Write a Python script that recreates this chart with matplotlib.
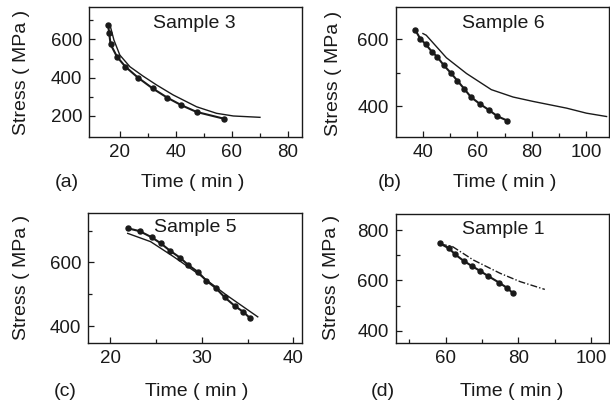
import matplotlib
matplotlib.use("Agg")
import matplotlib.pyplot as plt

plt.rcParams['font.family'] = ['Liberation Sans', 'DejaVu Sans']

# Sample 3 (a)
a_exp_t = [15.8, 16.2, 16.7, 19.0, 22.0, 26.5, 31.7, 37.0, 42.0, 47.4, 57.1]
a_exp_s = [675, 634, 574, 509, 457, 400, 344, 295, 256, 221, 186]
a_mod_t = [16.7, 17.9, 20.0, 23.6, 28.3, 33.1, 39.0, 47.4, 54.5, 60.5, 70.0]
a_mod_s = [663, 596, 518, 457, 408, 362, 310, 248, 214, 200, 193]

# Sample 6 (b)
b_exp_t = [37.2, 39.0, 41.0, 43.3, 45.3, 47.6, 50.2, 52.6, 55.2, 57.6, 60.8, 64.1, 67.3, 70.9]
b_exp_s = [627, 602, 585, 563, 547, 523, 500, 477, 452, 428, 408, 390, 371, 358]
b_mod_t = [40.0, 41.2, 48.6, 56.0, 65.1, 73.1, 80.4, 92.7, 100.0, 107.4]
b_mod_s = [617, 612, 545, 498, 450, 428, 415, 395, 380, 370]

# Sample 5 (c)
c_exp_t = [21.9, 23.2, 24.5, 25.5, 26.5, 27.6, 28.5, 29.6, 30.5, 31.5, 32.5, 33.6, 34.5, 35.3]
c_exp_s = [707, 698, 679, 660, 637, 615, 592, 569, 542, 520, 490, 463, 445, 424]
c_mod_t = [21.9, 24.4, 26.9, 29.8, 32.7, 36.1]
c_mod_s = [691, 665, 618, 560, 497, 429]

# Sample 1 (d)
d_exp_t = [58.4, 60.9, 62.6, 64.9, 67.2, 69.4, 71.7, 74.7, 76.8, 78.6]
d_exp_s = [747, 727, 703, 678, 657, 638, 617, 591, 571, 548]
d_mod_t = [58.4, 61.9, 67.6, 75.0, 80.5, 87.3]
d_mod_s = [745, 734, 681, 628, 595, 564]

panels = [
    dict(rect=[0.1459, 0.665, 0.3492, 0.317], xlim=(9, 85), ylim=(92, 767),
         xt=[20, 40, 60, 80], xm=[30, 50, 70], yt=[200, 400, 600], ym=[300, 500, 700],
         exp=(a_exp_t, a_exp_s), mod=(a_mod_t, a_mod_s), ls='-', title='Sample 3',
         title_xy=(194, 23), tag='(a)', tag_xy=(67, 183), xl_xy=(193, 183), yl_xy=(22, 72)),
    dict(rect=[0.6487, 0.665, 0.3497, 0.317], xlim=(30, 108.3), ylim=(310, 695),
         xt=[40, 60, 80, 100], xm=[50, 70, 90], yt=[400, 600], ym=[500],
         exp=(b_exp_t, b_exp_s), mod=(b_mod_t, b_mod_s), ls='-', title='Sample 6',
         title_xy=(503, 23), tag='(b)', tag_xy=(390, 183), xl_xy=(505, 183), yl_xy=(333, 73)),
    dict(rect=[0.1448, 0.1586, 0.3498, 0.3186], xlim=(17.6, 40.9), ylim=(346, 754),
         xt=[20, 30, 40], xm=[25, 35], yt=[400, 600], ym=[500, 700],
         exp=(c_exp_t, c_exp_s), mod=(c_mod_t, c_mod_s), ls='-', title='Sample 5',
         title_xy=(195, 227), tag='(c)', tag_xy=(65, 392), xl_xy=(197, 392), yl_xy=(22, 277)),
    dict(rect=[0.6487, 0.160, 0.3497, 0.3155], xlim=(46.2, 105), ylim=(352, 864),
         xt=[60, 80, 100], xm=[50, 70, 90], yt=[400, 600, 800], ym=[500, 700],
         exp=(d_exp_t, d_exp_s), mod=(d_mod_t, d_mod_s), ls=(0, (5, 1.5, 1, 1.5)), title='Sample 1',
         title_xy=(503, 230), tag='(d)', tag_xy=(383, 392), xl_xy=(512, 392), yl_xy=(332, 277)),
]

W, H = 610, 408
fig = plt.figure(figsize=(W / 100, H / 100), dpi=100)
fs_tick = 13.5
fs_text = 14
col = '#1a1a1a'

for p in panels:
    ax = fig.add_axes(p['rect'])
    ax.plot(p['mod'][0], p['mod'][1], color=col, lw=1.0, ls=p['ls'])
    ax.plot(p['exp'][0], p['exp'][1], color=col, lw=1.5, marker='o', ms=3.6)
    ax.set_xlim(*p['xlim'])
    ax.set_ylim(*p['ylim'])
    ax.set_xticks(p['xt'])
    ax.set_xticks(p['xm'], minor=True)
    ax.set_yticks(p['yt'])
    ax.set_yticks(p['ym'], minor=True)
    ax.tick_params(which='both', direction='in', labelsize=fs_tick, colors=col, width=0.9)
    ax.tick_params(which='major', length=4, pad=5)
    ax.tick_params(which='minor', length=3)
    for s in ax.spines.values():
        s.set_linewidth(1.0)
        s.set_color(col)
    fig.text(p['title_xy'][0] / W, 1 - p['title_xy'][1] / H, p['title'], fontsize=fs_text,
             ha='center', va='center', color=col)
    fig.text(p['tag_xy'][0] / W, 1 - p['tag_xy'][1] / H, p['tag'], fontsize=fs_text,
             ha='center', va='center', color=col)
    fig.text(p['xl_xy'][0] / W, 1 - p['xl_xy'][1] / H, 'Time ( min )', fontsize=fs_text,
             ha='center', va='center', color=col)
    fig.text(p['yl_xy'][0] / W, 1 - p['yl_xy'][1] / H, 'Stress ( MPa )', fontsize=fs_text,
             ha='center', va='center', rotation=90, color=col)

fig.savefig('out.png', dpi=100)
